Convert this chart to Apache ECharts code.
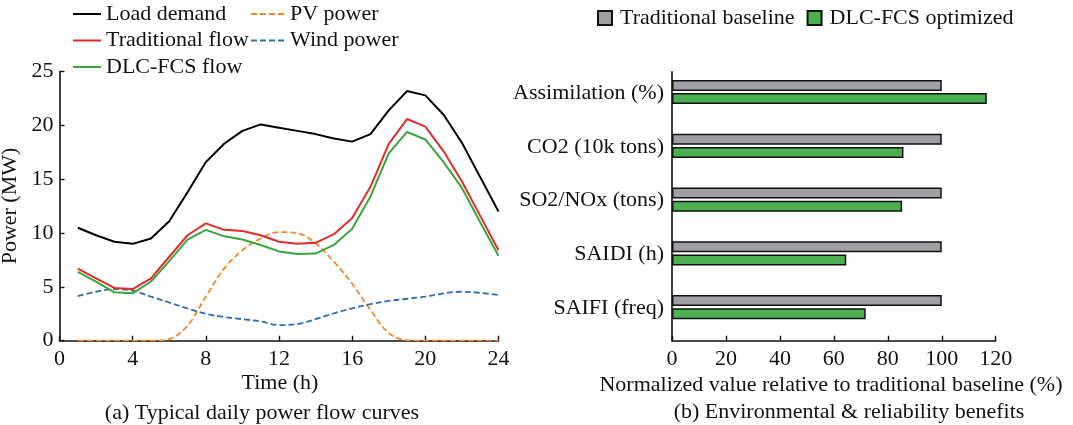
<!DOCTYPE html>
<html>
<head>
<meta charset="utf-8">
<script src="https://cdn.jsdelivr.net/npm/echarts@6/dist/echarts.min.js"></script>
<style>
  html, body { margin: 0; padding: 0; background: #fff; }
  #chart { width: 1073px; height: 425px; }
</style>
</head>
<body>
<div id="chart"></div>
<script>
(function () {
var hours = [1,2,3,4,5,6,7,8,9,10,11,12,13,14,15,16,17,18,19,20,21,22,23,24];
var loadDemand  = [10.5,9.8,9.2,9.0,9.5,11.1,13.8,16.6,18.3,19.5,20.1,19.8,19.5,19.2,18.8,18.5,19.2,21.4,23.2,22.8,21.0,18.4,15.2,12.0];
var tradFlow    = [6.7,5.8,4.9,4.8,5.8,7.8,9.8,10.9,10.3,10.2,9.8,9.2,9.0,9.1,9.9,11.4,14.3,18.3,20.6,19.9,17.6,14.8,11.6,8.4];
var dlcFlow     = [6.4,5.5,4.5,4.4,5.5,7.4,9.4,10.3,9.7,9.4,8.9,8.3,8.05,8.1,8.9,10.4,13.4,17.4,19.4,18.7,16.6,14.2,11.0,7.9];
var pvPower     = [0,0,0,0,0,0.15,1.4,4.1,6.7,8.4,9.5,10.1,10.0,9.05,7.35,5.3,2.85,0.7,0.05,0,0,0,0,0];
var windPower   = [4.15,4.55,4.8,4.65,4.1,3.55,3.0,2.5,2.2,2.0,1.8,1.45,1.55,2.0,2.55,3.0,3.4,3.7,3.9,4.1,4.4,4.55,4.45,4.25];

var metrics       = ["Assimilation (%)", "CO2 (10k tons)", "SO2/NOx (tons)", "SAIDI (h)", "SAIFI (freq)"];
var baselineVals  = [100, 100, 100, 100, 100];
var optimizedVals = [116.7, 85.8, 85.3, 64.6, 71.8];

var timeTicks = [0, 24, 4];    // min, max, step
var powerTicks = [0, 25, 5];
var pctTicks = [0, 120, 20];

var chart = echarts.init(document.getElementById('chart'));
var FONT = "'Liberation Serif', 'Times New Roman', serif";
var txt = { color: '#111', fontFamily: FONT, fontSize: 22 };

function pairs(vals) {
    return hours.map(function (h, i) { return [h, vals[i]]; });
}
function lineSeries(name, vals, color, dashed) {
    return {
        name: name, type: 'line', xAxisIndex: 0, yAxisIndex: 0,
        data: pairs(vals), showSymbol: false, symbol: 'none',
        smooth: dashed ? 0.35 : false,
        lineStyle: { color: color, width: dashed ? 1.8 : 2, type: dashed ? [6, 3] : 'solid' },
        itemStyle: { color: color },
        z: dashed ? 3 : 4
    };
}
var axLine = { show: true, lineStyle: { color: '#111', width: 1.6 } };
var tick = { show: true, inside: true, length: 5, lineStyle: { color: '#111', width: 1.4 } };
var legendText = { color: '#111', fontFamily: FONT, fontSize: 22, lineHeight: 22 };

chart.setOption({
    backgroundColor: '#fff',
    animation: false,
    textStyle: { fontFamily: FONT },
    grid: [
        { left: 59.5, right: 574.5, top: 71.7, bottom: 84.3 },
        { left: 672, right: 77.3, top: 71.7, bottom: 84.3 },
        // label-only grid, nudged up so names sit between the bar pairs
        { left: 672, right: 77.3, top: 66.2, bottom: 89.8 }
    ],
    legend: [
        {
            orient: 'vertical', left: 72, top: 3, padding: 0, itemGap: 4.5,
            itemWidth: 28, itemHeight: 10, itemStyle: { opacity: 0 },
            textStyle: legendText,
            data: ['Load demand', 'Traditional flow', 'DLC-FCS flow']
        },
        {
            orient: 'vertical', left: 250, top: 3, padding: 0, itemGap: 4.5,
            itemWidth: 34, itemHeight: 10, itemStyle: { opacity: 0 },
            textStyle: legendText,
            data: ['PV power', 'Wind power']
        },
        {
            orient: 'horizontal', left: 597, top: 7, padding: 0, itemGap: 12,
            itemWidth: 14, itemHeight: 14, icon: 'rect',
            textStyle: Object.assign({ padding: [0, 0, 0, 3] }, legendText),
            data: ['Traditional baseline', 'DLC-FCS optimized']
        }
    ],
    xAxis: [
        {
            type: 'value', gridIndex: 0, min: timeTicks[0], max: timeTicks[1], interval: timeTicks[2],
            axisLine: axLine, splitLine: { show: false }, axisTick: tick,
            axisLabel: Object.assign({ margin: 8 }, txt)
        },
        {
            type: 'value', gridIndex: 1, min: pctTicks[0], max: pctTicks[1], interval: pctTicks[2],
            axisLine: axLine, splitLine: { show: false }, axisTick: tick,
            axisLabel: Object.assign({ margin: 8 }, txt)
        },
        {
            type: 'value', gridIndex: 2, show: false, min: 0, max: 1
        }
    ],
    yAxis: [
        {
            type: 'value', gridIndex: 0, min: powerTicks[0], max: powerTicks[1], interval: powerTicks[2],
            axisLine: axLine, splitLine: { show: false }, axisTick: tick,
            axisLabel: Object.assign({ margin: 6 }, txt)
        },
        {
            type: 'category', gridIndex: 1, inverse: true, data: metrics,
            axisLine: axLine, axisTick: { show: false }, splitLine: { show: false },
            axisLabel: { show: false }
        },
        {
            type: 'category', gridIndex: 2, inverse: true, data: metrics,
            axisLine: { show: false }, axisTick: { show: false }, splitLine: { show: false },
            axisLabel: Object.assign({ margin: 8 }, txt)
        }
    ],
    series: [
        lineSeries('PV power', pvPower, '#f5872a', true),
        lineSeries('Wind power', windPower, '#2b6cb8', true),
        lineSeries('Load demand', loadDemand, '#000000', false),
        lineSeries('Traditional flow', tradFlow, '#e32b2b', false),
        lineSeries('DLC-FCS flow', dlcFlow, '#3aa63a', false),
        {
            name: 'Traditional baseline', type: 'bar', xAxisIndex: 1, yAxisIndex: 1,
            data: baselineVals, barWidth: 11, barGap: '20%',
            itemStyle: { color: '#a0a0a4', borderColor: '#111', borderWidth: 1.5 }
        },
        {
            name: 'DLC-FCS optimized', type: 'bar', xAxisIndex: 1, yAxisIndex: 1,
            data: optimizedVals, barWidth: 11, barGap: '20%',
            itemStyle: { color: '#4caf50', borderColor: '#111', borderWidth: 1.5 }
        },
        {
            // empty slot so the two real bars sit above the category centre
            name: 'spacer', type: 'bar', xAxisIndex: 1, yAxisIndex: 1,
            data: metrics.map(function () { return '-'; }), barWidth: 11, barGap: '20%',
            itemStyle: { color: 'transparent' }, silent: true
        }
    ],
    graphic: [
        { type: 'text', x: 280, y: 383, style: { text: 'Time (h)', textAlign: 'center', textVerticalAlign: 'middle', fill: '#111', font: '22px ' + FONT } },
        { type: 'text', x: 262, y: 413, style: { text: '(a) Typical daily power flow curves', textAlign: 'center', textVerticalAlign: 'middle', fill: '#111', font: '22px ' + FONT } },
        { type: 'text', x: 10, y: 206, rotation: Math.PI / 2, style: { text: 'Power (MW)', textAlign: 'center', textVerticalAlign: 'middle', fill: '#111', font: '22px ' + FONT } },
        { type: 'text', x: 831, y: 385, style: { text: 'Normalized value relative to traditional baseline (%)', textAlign: 'center', textVerticalAlign: 'middle', fill: '#111', font: '22px ' + FONT } },
        { type: 'text', x: 849, y: 412, style: { text: '(b) Environmental & reliability benefits', textAlign: 'center', textVerticalAlign: 'middle', fill: '#111', font: '22px ' + FONT } }
    ]
});
})();
</script>
</body>
</html>
